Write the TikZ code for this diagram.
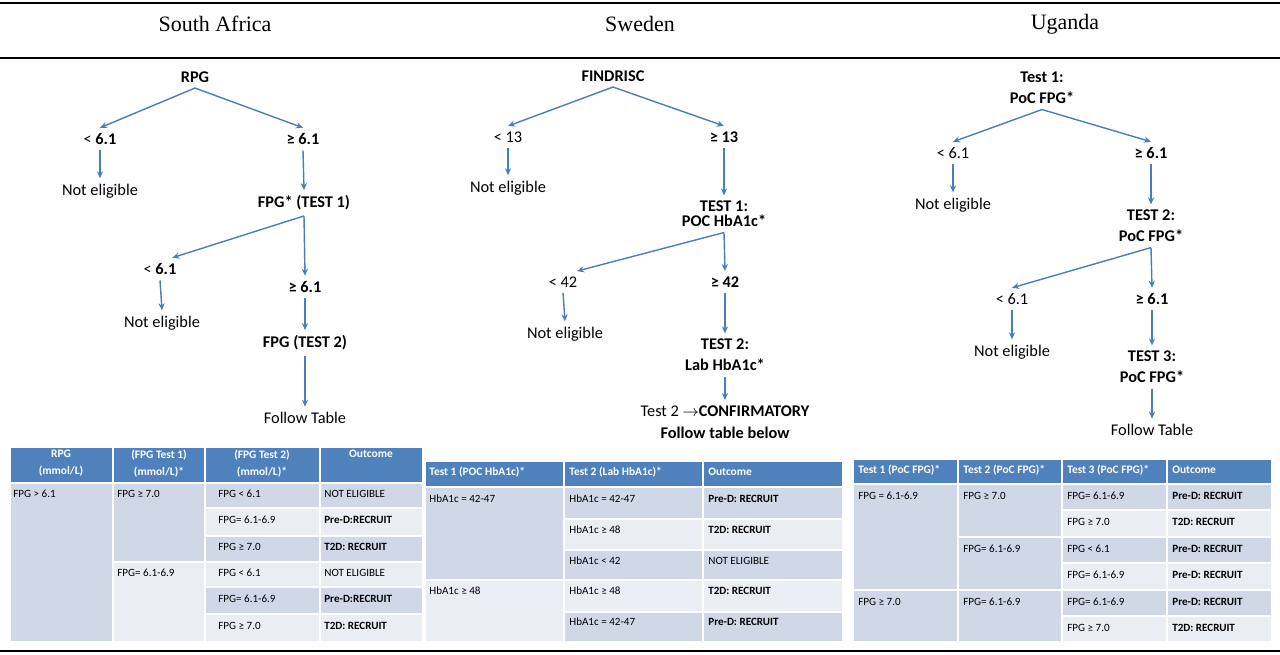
\documentclass[tikz,border=0pt]{standalone}
\usepackage{fontspec}
\setmainfont{Carlito}
\newfontfamily\kopfschrift{Liberation Serif}
\usetikzlibrary{arrows.meta}
\definecolor{kopfblau}{RGB}{79,129,189}
\definecolor{zeileDunkel}{RGB}{208,216,232}
\definecolor{zeileHell}{RGB}{233,237,244}
\definecolor{pfeilblau}{RGB}{74,126,187}
\begin{document}
\begin{tikzpicture}[x=0.02cm, y=-0.02cm,
        baum/.style={font=\fontsize{9.3}{12}\selectfont, align=center, inner sep=3pt},
        land/.style={font=\kopfschrift\fontsize{12.5}{14}\selectfont},
        pfeil/.style={draw=pfeilblau, line width=0.8pt, -{Stealth[length=4pt,width=3.5pt]}},
        linie/.style={line width=1.1pt},
        blau/.style={fill=kopfblau, draw=white, line width=0.8pt},
        dunkel/.style={fill=zeileDunkel, draw=white, line width=0.8pt},
        hell/.style={fill=zeileHell, draw=white, line width=0.8pt},
        kopf/.style={font=\bfseries\fontsize{6.5}{9.5}\selectfont, text=white, align=center, inner sep=0pt},
        zelle/.style={font=\fontsize{6.3}{8}\selectfont, anchor=west, inner sep=0pt}]
            \useasboundingbox (0,0) rectangle (1280,654);

            % Linien
            \draw[linie] (0,3) -- (1280,3); % oben
            \draw[linie] (0,58) -- (1280,58); % unter den Laendern
            \draw[linie] (0,651) -- (1280,651); % unten

            % Laender
            \node[land] (sa) at (215,24) {South Africa};
            \node[land] (sw) at (640,24) {Sweden};
            \node[land] (ug) at (1065,24) {Uganda};

            % Baum South Africa
            \node[baum] (rpg) at (195,77) {\textbf{RPG}};
            \node[baum] (salt) at (100,139) {< \textbf{6.1}};
            \node[baum] (sage) at (303,139) {\textbf{≥ 6.1}};
            \node[baum] (sane) at (100,191) {Not eligible};
            \node[baum] (satest1) at (304,203) {\textbf{FPG* (TEST 1)}};
            \node[baum] (salt2) at (160,269) {< \textbf{6.1}};
            \node[baum] (sage2) at (305,287) {\textbf{≥ 6.1}};
            \node[baum] (sane2) at (162,323) {Not eligible};
            \node[baum] (satest2) at (305,343) {\textbf{FPG (TEST 2)}};
            \node[baum] (safolge) at (305,418) {Follow Table};
            \draw[pfeil] (rpg.south) -- (salt.north);
            \draw[pfeil] (rpg.south) -- (sage.north);
            \draw[pfeil] (salt.south) -- (sane.north);
            \draw[pfeil] (sage.south) -- (satest1.north);
            \draw[pfeil] (satest1.south) -- ([xshift=7pt]salt2.north);
            \draw[pfeil] (satest1.south) -- (sage2.north);
            \draw[pfeil] (salt2.south) -- (sane2.north);
            \draw[pfeil] (sage2.south) -- (satest2.north);
            \draw[pfeil] (satest2.south) -- (safolge.north);

            % Baum Sweden
            \node[baum] (find) at (613,76) {\textbf{FINDRISC}};
            \node[baum] (swlt) at (508,137) {< 13};
            \node[baum] (swge) at (724,137) {\textbf{≥ 13}};
            \node[baum] (swne) at (508,188) {Not eligible};
            \node[baum, font=\fontsize{9.3}{8.5}\selectfont] (swtest1) at (724,214) {\textbf{TEST 1:}\\\textbf{POC HbA1c*}};
            \node[baum] (swlt2) at (563,282) {< 42};
            \node[baum] (swge2) at (725,282) {\textbf{≥ 42}};
            \node[baum] (swne2) at (565,334) {Not eligible};
            \node[baum] (swtest2) at (725,355) {\textbf{TEST 2:}\\\textbf{Lab HbA1c*}};
            \node[baum, font=\fontsize{9.3}{12.5}\selectfont] (swconf) at (725,422) {Test 2 $\rightarrow$\textbf{CONFIRMATORY}\\\textbf{Follow table below}};
            \draw[pfeil] (find.south) -- (swlt.north);
            \draw[pfeil] (find.south) -- (swge.north);
            \draw[pfeil] (swlt.south) -- (swne.north);
            \draw[pfeil] (swge.south) -- (swtest1.north);
            \draw[pfeil] (swtest1.south) -- ([xshift=8pt]swlt2.north);
            \draw[pfeil] (swtest1.south) -- (swge2.north);
            \draw[pfeil] (swlt2.south) -- (swne2.north);
            \draw[pfeil] (swge2.south) -- (swtest2.north);
            \draw[pfeil] (swtest2.south) -- (swconf.north);

            % Baum Uganda
            \node[baum] (ugtest1) at (1042,88) {\textbf{Test 1:}\\\textbf{PoC FPG*}};
            \node[baum] (uglt) at (953,153) {< 6.1};
            \node[baum] (ugge) at (1151,153) {\textbf{≥ 6.1}};
            \node[baum] (ugne) at (953,205) {Not eligible};
            \node[baum] (ugtest2) at (1151,226) {\textbf{TEST 2:}\\\textbf{PoC FPG*}};
            \node[baum] (uglt2) at (1012,299) {< 6.1};
            \node[baum] (ugge2) at (1152,299) {\textbf{≥ 6.1}};
            \node[baum] (ugne2) at (1012,352) {Not eligible};
            \node[baum] (ugtest3) at (1152,367) {\textbf{TEST 3:}\\\textbf{PoC FPG*}};
            \node[baum] (ugfolge) at (1152,430) {Follow Table};
            \draw[pfeil] (ugtest1.south) -- (uglt.north);
            \draw[pfeil] (ugtest1.south) -- (ugge.north);
            \draw[pfeil] (uglt.south) -- (ugne.north);
            \draw[pfeil] (ugge.south) -- (ugtest2.north);
            \draw[pfeil] (ugtest2.south) -- (uglt2.north);
            \draw[pfeil] (ugtest2.south) -- (ugge2.north);
            \draw[pfeil] (uglt2.south) -- (ugne2.north);
            \draw[pfeil] (ugge2.south) -- (ugtest3.north);
            \draw[pfeil] (ugtest3.south) -- (ugfolge.north);

            % Tabelle South Africa
            \filldraw[blau] (10,447) rectangle (113,483);
            \filldraw[blau] (113,447) rectangle (205,483);
            \filldraw[blau] (205,447) rectangle (320,483);
            \filldraw[blau] (320,447) rectangle (423,483);
            \filldraw[dunkel] (10,483) rectangle (113,642);
            \filldraw[dunkel] (113,483) rectangle (205,562);
            \filldraw[hell] (113,562) rectangle (205,642);
            \filldraw[dunkel] (205,483) rectangle (320,508);
            \filldraw[hell] (205,508) rectangle (320,536);
            \filldraw[dunkel] (205,536) rectangle (320,562);
            \filldraw[hell] (205,562) rectangle (320,587);
            \filldraw[dunkel] (205,587) rectangle (320,614);
            \filldraw[hell] (205,614) rectangle (320,642);
            \filldraw[dunkel] (320,483) rectangle (423,508);
            \filldraw[hell] (320,508) rectangle (423,536);
            \filldraw[dunkel] (320,536) rectangle (423,562);
            \filldraw[hell] (320,562) rectangle (423,587);
            \filldraw[dunkel] (320,587) rectangle (423,614);
            \filldraw[hell] (320,614) rectangle (423,642);

            % Beschriftung South Africa
            \node[kopf, anchor=north] (saK1) at (61,450) {RPG\\(mmol/L)};
            \node[kopf, anchor=north] (saK2) at (159,450) {(FPG Test 1)\\(mmol/L)*};
            \node[kopf, anchor=north] (saK3) at (262,450) {(FPG Test 2)\\(mmol/L)*};
            \node[kopf, anchor=north] (saK4) at (371,450) {Outcome};
            \node[zelle] (saA1) at (13,494) {FPG > 6.1};
            \node[zelle] (saB1) at (117,494) {FPG ≥ 7.0};
            \node[zelle] (saB2) at (117,573) {FPG= 6.1-6.9};
            \node[zelle] (saC1) at (218,494) {FPG < 6.1};
            \node[zelle] (saC2) at (218,520) {FPG= 6.1-6.9};
            \node[zelle] (saC3) at (218,547) {FPG ≥ 7.0};
            \node[zelle] (saC4) at (218,573) {FPG < 6.1};
            \node[zelle] (saC5) at (218,599) {FPG= 6.1-6.9};
            \node[zelle] (saC6) at (218,626) {FPG ≥ 7.0};
            \node[zelle] (saD1) at (324,494) {NOT ELIGIBLE};
            \node[zelle] (saD2) at (324,520) {\textbf{Pre-D:RECRUIT}};
            \node[zelle] (saD3) at (324,547) {\textbf{T2D: RECRUIT}};
            \node[zelle] (saD4) at (324,573) {NOT ELIGIBLE};
            \node[zelle] (saD5) at (324,599) {\textbf{Pre-D:RECRUIT}};
            \node[zelle] (saD6) at (324,626) {\textbf{T2D: RECRUIT}};

            % Tabelle Sweden
            \filldraw[blau] (425,461) rectangle (564,487);
            \filldraw[blau] (564,461) rectangle (703,487);
            \filldraw[blau] (703,461) rectangle (843,487);
            \filldraw[dunkel] (425,487) rectangle (564,580);
            \filldraw[hell] (425,580) rectangle (564,642);
            \filldraw[dunkel] (564,487) rectangle (703,519);
            \filldraw[hell] (564,519) rectangle (703,550);
            \filldraw[dunkel] (564,550) rectangle (703,580);
            \filldraw[hell] (564,580) rectangle (703,612);
            \filldraw[dunkel] (564,612) rectangle (703,642);
            \filldraw[dunkel] (703,487) rectangle (843,519);
            \filldraw[hell] (703,519) rectangle (843,550);
            \filldraw[dunkel] (703,550) rectangle (843,580);
            \filldraw[hell] (703,580) rectangle (843,612);
            \filldraw[dunkel] (703,612) rectangle (843,642);

            % Beschriftung Sweden
            \node[kopf, anchor=west] (swK1) at (429,472) {Test 1 (POC HbA1c)*};
            \node[kopf, anchor=west] (swK2) at (569,472) {Test 2 (Lab HbA1c)*};
            \node[kopf, anchor=west] (swK3) at (708,472) {Outcome};
            \node[zelle] (swA1) at (429,499) {HbA1c = 42-47};
            \node[zelle] (swA2) at (429,591) {HbA1c ≥ 48};
            \node[zelle] (swB1) at (569,499) {HbA1c = 42-47};
            \node[zelle] (swB2) at (569,530) {HbA1c ≥ 48};
            \node[zelle] (swB3) at (569,561) {HbA1c < 42};
            \node[zelle] (swB4) at (569,591) {HbA1c ≥ 48};
            \node[zelle] (swB5) at (569,622) {HbA1c = 42-47};
            \node[zelle] (swC1) at (708,499) {\textbf{Pre-D: RECRUIT}};
            \node[zelle] (swC2) at (708,530) {\textbf{T2D: RECRUIT}};
            \node[zelle] (swC3) at (708,561) {NOT ELIGIBLE};
            \node[zelle] (swC4) at (708,591) {\textbf{T2D: RECRUIT}};
            \node[zelle] (swC5) at (708,622) {\textbf{Pre-D: RECRUIT}};

            % Tabelle Uganda
            \filldraw[blau] (853,459) rectangle (958,484);
            \filldraw[blau] (958,459) rectangle (1062,484);
            \filldraw[blau] (1062,459) rectangle (1167,484);
            \filldraw[blau] (1167,459) rectangle (1272,484);
            \filldraw[dunkel] (853,484) rectangle (958,590);
            \filldraw[dunkel] (853,590) rectangle (958,642);
            \filldraw[dunkel] (958,484) rectangle (1062,537);
            \filldraw[dunkel] (958,537) rectangle (1062,590);
            \filldraw[dunkel] (958,590) rectangle (1062,642);
            \filldraw[dunkel] (1062,484) rectangle (1167,510);
            \filldraw[hell] (1062,510) rectangle (1167,537);
            \filldraw[dunkel] (1062,537) rectangle (1167,563);
            \filldraw[hell] (1062,563) rectangle (1167,590);
            \filldraw[dunkel] (1062,590) rectangle (1167,616);
            \filldraw[hell] (1062,616) rectangle (1167,642);
            \filldraw[dunkel] (1167,484) rectangle (1272,510);
            \filldraw[hell] (1167,510) rectangle (1272,537);
            \filldraw[dunkel] (1167,537) rectangle (1272,563);
            \filldraw[hell] (1167,563) rectangle (1272,590);
            \filldraw[dunkel] (1167,590) rectangle (1272,616);
            \filldraw[hell] (1167,616) rectangle (1272,642);

            % Beschriftung Uganda
            \node[kopf, anchor=west] (ugK1) at (858,470) {Test 1 (PoC FPG)*};
            \node[kopf, anchor=west] (ugK2) at (963,470) {Test 2 (PoC FPG)*};
            \node[kopf, anchor=west] (ugK3) at (1067,470) {Test 3 (PoC FPG)*};
            \node[kopf, anchor=west] (ugK4) at (1172,470) {Outcome};
            \node[zelle] (ugA1) at (858,496) {FPG = 6.1-6.9};
            \node[zelle] (ugA2) at (858,602) {FPG ≥ 7.0};
            \node[zelle] (ugB1) at (963,496) {FPG ≥ 7.0};
            \node[zelle] (ugB2) at (963,549) {FPG= 6.1-6.9};
            \node[zelle] (ugB3) at (963,602) {FPG= 6.1-6.9};
            \node[zelle] (ugC1) at (1067,496) {FPG= 6.1-6.9};
            \node[zelle] (ugC2) at (1067,522) {FPG ≥ 7.0};
            \node[zelle] (ugC3) at (1067,549) {FPG < 6.1};
            \node[zelle] (ugC4) at (1067,575) {FPG= 6.1-6.9};
            \node[zelle] (ugC5) at (1067,602) {FPG= 6.1-6.9};
            \node[zelle] (ugC6) at (1067,628) {FPG ≥ 7.0};
            \node[zelle] (ugD1) at (1172,496) {\textbf{Pre-D: RECRUIT}};
            \node[zelle] (ugD2) at (1172,522) {\textbf{T2D: RECRUIT}};
            \node[zelle] (ugD3) at (1172,549) {\textbf{Pre-D: RECRUIT}};
            \node[zelle] (ugD4) at (1172,575) {\textbf{Pre-D: RECRUIT}};
            \node[zelle] (ugD5) at (1172,602) {\textbf{Pre-D: RECRUIT}};
            \node[zelle] (ugD6) at (1172,628) {\textbf{T2D: RECRUIT}};
\end{tikzpicture}
\end{document}
